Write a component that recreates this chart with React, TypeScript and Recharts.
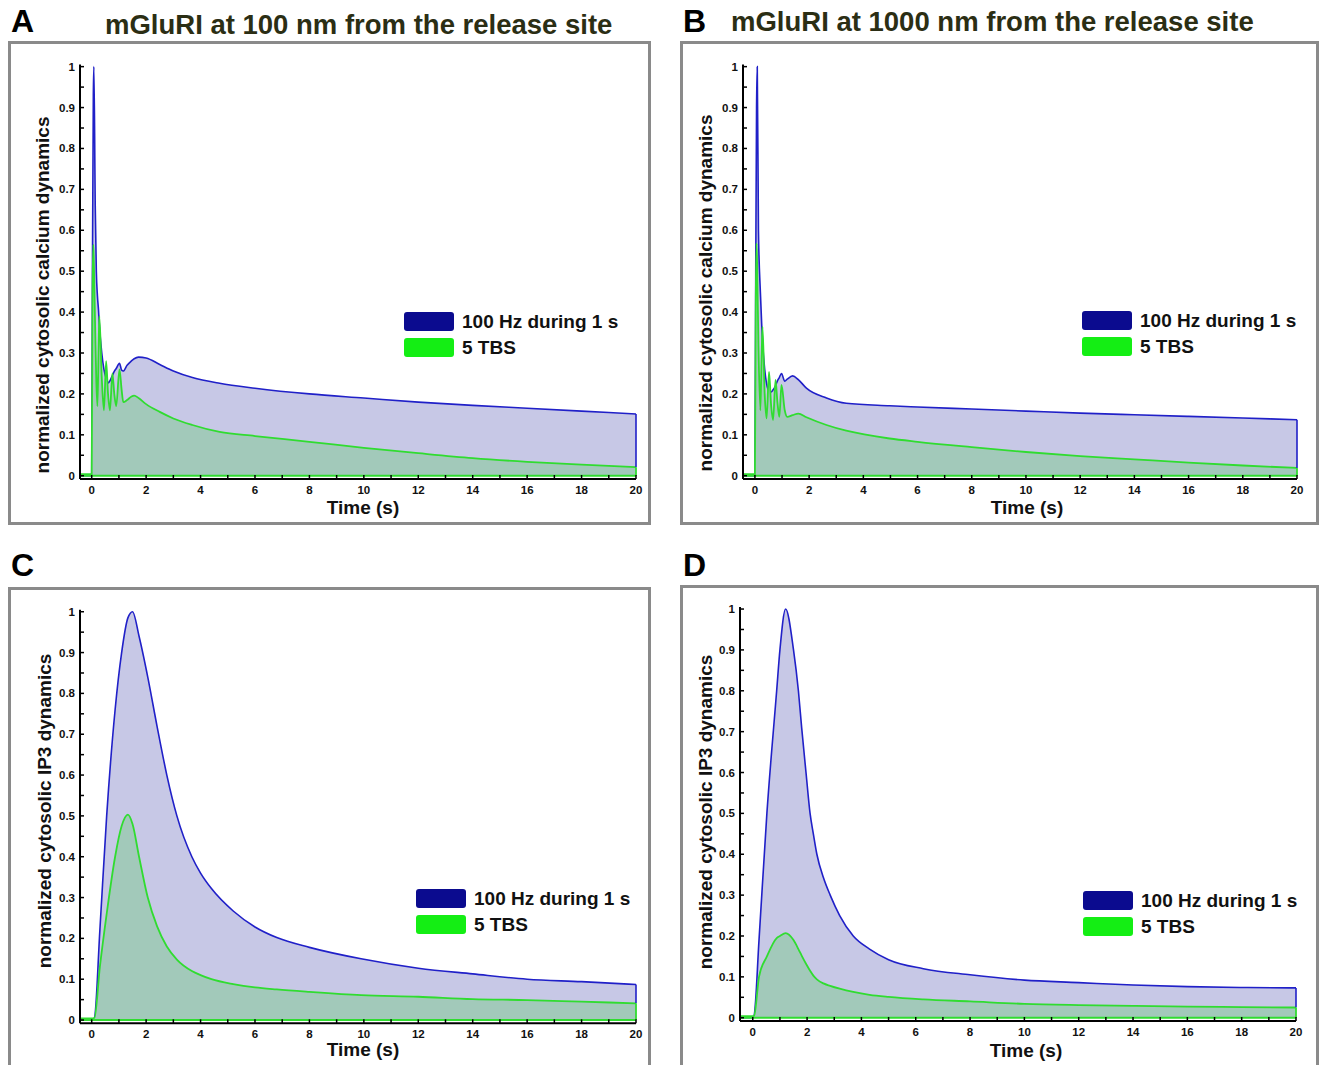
import React from 'react';
import { ComposedChart, Area, XAxis, YAxis, ReferenceLine, Legend } from 'recharts';

const FONT = '"Liberation Sans", Arial, Helvetica, sans-serif';

// A: calcium, mGluRI at 100 nm
const timeA = [-0.43, 0, 0.03, 0.06, 0.08, 0.13, 0.17, 0.21, 0.25, 0.28, 0.37, 0.45, 0.53, 0.6, 0.67, 0.76, 0.83, 0.9, 1.02, 1.1, 1.16, 1.3, 1.45, 1.56, 1.72, 2.0, 2.5, 3.0, 3.7, 4.7, 6, 8, 10, 12, 14, 16, 18, 20];
const hfsA = [0, 0, 0.55, 0.93, 1.0, 0.66, 0.5, 0.44, 0.405, 0.37, 0.3, 0.26, 0.238, 0.227, 0.232, 0.245, 0.255, 0.262, 0.275, 0.258, 0.256, 0.27, 0.28, 0.286, 0.29, 0.288, 0.272, 0.256, 0.24, 0.226, 0.214, 0.2, 0.19, 0.18, 0.172, 0.165, 0.158, 0.151];
const tbsA = [0.004, 0.004, 0.45, 0.565, 0.52, 0.35, 0.23, 0.17, 0.3, 0.39, 0.24, 0.16, 0.28, 0.2, 0.16, 0.25, 0.2, 0.17, 0.26, 0.21, 0.18, 0.185, 0.193, 0.196, 0.19, 0.175, 0.156, 0.14, 0.124, 0.107, 0.097, 0.083, 0.068, 0.055, 0.043, 0.034, 0.027, 0.021];

// B: calcium, mGluRI at 1000 nm
const timeB = [-0.44, 0, 0.03, 0.06, 0.086, 0.13, 0.2, 0.25, 0.28, 0.36, 0.43, 0.52, 0.6, 0.67, 0.76, 0.83, 0.9, 0.98, 1.1, 1.19, 1.39, 1.6, 1.9, 2.64, 3.37, 4.97, 6, 8, 10, 12, 14, 16, 18, 20];
const hfsB = [0, 0, 0.5, 0.9, 1.0, 0.6, 0.45, 0.37, 0.33, 0.26, 0.225, 0.207, 0.205, 0.21, 0.22, 0.232, 0.24, 0.25, 0.231, 0.236, 0.244, 0.235, 0.214, 0.19, 0.177, 0.171, 0.168, 0.163, 0.158, 0.153, 0.149, 0.145, 0.141, 0.137];
const tbsB = [0.004, 0.004, 0.42, 0.568, 0.5, 0.32, 0.16, 0.3, 0.364, 0.2, 0.14, 0.254, 0.17, 0.136, 0.234, 0.18, 0.144, 0.222, 0.16, 0.144, 0.148, 0.152, 0.143, 0.124, 0.11, 0.091, 0.083, 0.07, 0.058, 0.048, 0.04, 0.032, 0.025, 0.019];

// C: IP3, 100 nm
const timeC = [-0.43, 0, 0.1, 0.3, 0.55, 0.86, 1.1, 1.33, 1.5, 1.74, 2.06, 2.4, 2.76, 3.13, 3.68, 4.0, 4.4, 5.2, 6, 6.8, 8, 9.9, 12, 14, 16, 18, 20];
const hfsC = [0, 0, 0.005, 0.22, 0.5, 0.76, 0.9, 0.985, 1.0, 0.94, 0.84, 0.72, 0.6, 0.5, 0.4, 0.36, 0.322, 0.267, 0.228, 0.202, 0.178, 0.15, 0.127, 0.113, 0.1, 0.094, 0.087];
const tbsC = [0.004, 0.004, 0.005, 0.13, 0.26, 0.4, 0.475, 0.503, 0.48, 0.4, 0.3, 0.23, 0.18, 0.148, 0.12, 0.11, 0.1, 0.088, 0.08, 0.075, 0.069, 0.061, 0.057, 0.051, 0.049, 0.045, 0.041];

// D: IP3, 1000 nm
const timeD = [-0.47, 0, 0.05, 0.23, 0.52, 0.88, 1.0, 1.21, 1.5, 1.68, 1.8, 1.96, 2.11, 2.23, 2.36, 2.6, 2.85, 3.2, 3.7, 4.3, 5, 6.28, 8, 10, 12, 14, 16, 18, 20];
const hfsD = [0, 0, 0.005, 0.19, 0.5, 0.8, 0.9, 1.0, 0.9, 0.8, 0.71, 0.6, 0.5, 0.45, 0.4, 0.343, 0.3, 0.25, 0.2, 0.168, 0.142, 0.12, 0.105, 0.092, 0.086, 0.08, 0.076, 0.074, 0.073];
const tbsD = [0.004, 0.004, 0.005, 0.1, 0.15, 0.195, 0.2, 0.207, 0.19, 0.168, 0.152, 0.132, 0.115, 0.103, 0.094, 0.084, 0.078, 0.071, 0.063, 0.056, 0.051, 0.045, 0.04, 0.034, 0.031, 0.029, 0.027, 0.026, 0.025];

const xTicks = [0, 1, 2, 3, 4, 5, 6, 7, 8, 9, 10, 11, 12, 13, 14, 15, 16, 17, 18, 19, 20];
const yTicks = [0, 0.05, 0.1, 0.15, 0.2, 0.25, 0.3, 0.35, 0.4, 0.45, 0.5, 0.55, 0.6, 0.65, 0.7, 0.75, 0.8, 0.85, 0.9, 0.95, 1];
const legendNames = ['100 Hz during 1 s', '5 TBS'];
const legendSwatches = ['#0b0b8f', '#14ee14'];

const BLUE = '#2020c8';
const GREEN = '#30dc30';
const BLUE_FILL = '#c7c8e6';
const GREEN_FILL = '#a2c9ba';

function rows(time: number[], hfs: number[], tbs: number[]) {
  return time.map((t, i) => ({ t, hfs: hfs[i], tbs: tbs[i] }));
}

function XTick(props: any) {
  const { x, y, payload } = props;
  const v = payload.value;
  const major = v % 2 === 0;
  return (
    <g>
      <line x1={x} x2={x} y1={y} y2={y - 4} stroke="#000" strokeWidth={1.5} />
      {major && (
        <text x={x} y={y + 15} textAnchor="middle" fontFamily={FONT} fontWeight="bold" fontSize={11.5} fill="#111">
          {v}
        </text>
      )}
    </g>
  );
}

function YTick(props: any) {
  const { x, y, payload } = props;
  const v = payload.value;
  const major = Math.round(v * 100) % 10 === 0;
  const txt = v === 0 ? '0' : v === 1 ? '1' : v.toFixed(1);
  return (
    <g>
      <line x1={x} x2={x + 4} y1={y} y2={y} stroke="#000" strokeWidth={1.5} />
      {major && (
        <text x={x - 5} y={y + 4} textAnchor="end" fontFamily={FONT} fontWeight="bold" fontSize={11.5} fill="#111">
          {txt}
        </text>
      )}
    </g>
  );
}

function LegendBox() {
  return (
    <div style={{ fontFamily: FONT, fontWeight: 'bold', fontSize: 19, color: '#111' }}>
      {legendNames.map((n, i) => (
        <div key={n} style={{ display: 'flex', alignItems: 'center', height: 26, whiteSpace: 'nowrap' }}>
          <span style={{ display: 'inline-block', width: 50, height: 19, background: legendSwatches[i], borderRadius: 3, marginRight: 8 }} />
          <span>{n}</span>
        </div>
      ))}
    </div>
  );
}

type Box = { x: number; y: number; w: number; h: number };
type PanelProps = {
  frame: Box;
  plot: { left: number; right: number; top: number; bottom: number };
  xMin: number;
  time: number[];
  hfs: number[];
  tbs: number[];
  legend: { x: number; y: number };
  xLabel: { x: number; y: number };
  yLabel: { x: number; y: number; text: string };
};

function Panel(p: PanelProps) {
  const svgH = Math.min(p.frame.h, 1065 - p.frame.y);
  const data = rows(p.time, p.hfs, p.tbs);
  const fx = p.frame.x;
  const fy = p.frame.y;
  const tEnd = p.time[p.time.length - 1];
  const hfsEnd = p.hfs[p.hfs.length - 1];
  const tbsEnd = p.tbs[p.tbs.length - 1];
  return (
    <>
      <div
        style={{
          position: 'absolute', left: fx, top: fy, width: p.frame.w, height: p.frame.h,
          border: '3px solid #8a8a8a', boxSizing: 'border-box',
        }}
      />
      <div style={{ position: 'absolute', left: fx, top: fy }}>
        <ComposedChart
          width={p.frame.w}
          height={svgH}
          data={data}
          margin={{ top: p.plot.top - fy, right: fx + p.frame.w - p.plot.right, bottom: 0, left: 0 }}
        >
          <XAxis
            type="number"
            dataKey="t"
            domain={[p.xMin, 20]}
            ticks={xTicks}
            interval={0}
            allowDataOverflow
            height={fy + svgH - p.plot.bottom}
            tick={<XTick />}
            tickSize={0}
            tickMargin={0}
            tickLine={false}
            axisLine={{ stroke: '#000', strokeWidth: 2 }}
            label={() => (
              <text x={p.xLabel.x - fx} y={p.xLabel.y - fy} textAnchor="middle" dominantBaseline="central"
                fontFamily={FONT} fontWeight="bold" fontSize={19} fill="#111">
                Time (s)
              </text>
            )}
          />
          <YAxis
            type="number"
            domain={[-0.008, 1.005]}
            ticks={yTicks}
            interval={0}
            allowDataOverflow
            width={p.plot.left - fx}
            tick={<YTick />}
            tickSize={0}
            tickMargin={0}
            tickLine={false}
            axisLine={{ stroke: '#000', strokeWidth: 2 }}
            label={() => (
              <text x={0} y={0} transform={`translate(${p.yLabel.x - fx},${p.yLabel.y - fy}) rotate(-90)`}
                textAnchor="middle" dominantBaseline="central"
                fontFamily={FONT} fontWeight="bold" fontSize={19} fill="#111">
                {p.yLabel.text}
              </text>
            )}
          />
          <Area type="monotone" dataKey="hfs" name={legendNames[0]} stroke={BLUE} strokeWidth={1.6}
            fill={BLUE_FILL} fillOpacity={1} dot={false} activeDot={false} isAnimationActive={false} />
          <Area type="monotone" dataKey="tbs" name={legendNames[1]} stroke={GREEN} strokeWidth={1.8}
            fill={GREEN_FILL} fillOpacity={1} dot={false} activeDot={false} isAnimationActive={false} />
          <ReferenceLine segment={[{ x: tEnd, y: hfsEnd }, { x: tEnd, y: tbsEnd }]} stroke={BLUE} strokeWidth={1.6} />
          <ReferenceLine segment={[{ x: tEnd, y: tbsEnd }, { x: tEnd, y: 0 }]} stroke={GREEN} strokeWidth={1.8} />
          <ReferenceLine y={0} stroke={GREEN} strokeWidth={2} />
          <Legend
            layout="vertical"
            align="center"
            verticalAlign="middle"
            content={<LegendBox />}
            wrapperStyle={{ left: p.legend.x - fx, top: p.legend.y - fy, width: 'auto', height: 'auto' }}
          />
        </ComposedChart>
      </div>
    </>
  );
}

const titleStyle: React.CSSProperties = {
  position: 'absolute', fontFamily: FONT, fontWeight: 'bold', fontSize: 27.5, lineHeight: '32px',
  color: '#2b2e14', whiteSpace: 'nowrap',
};
const letterStyle: React.CSSProperties = {
  position: 'absolute', fontFamily: FONT, fontWeight: 'bold', fontSize: 32, lineHeight: '32px', color: '#000',
};

export default function App() {
  return (
    <div style={{ position: 'absolute', left: 0, top: 0, width: 1319, height: 1065, overflow: 'hidden', background: '#fff' }}>
      <div style={{ ...letterStyle, left: 11, top: 5 }}>A</div>
      <div style={{ ...titleStyle, left: 105, top: 9 }}>mGluRI at 100 nm from the release site</div>
      <div style={{ ...letterStyle, left: 683, top: 5 }}>B</div>
      <div style={{ ...titleStyle, left: 731, top: 6 }}>mGluRI at 1000 nm from the release site</div>
      <div style={{ ...letterStyle, left: 11, top: 549 }}>C</div>
      <div style={{ ...letterStyle, left: 683, top: 549 }}>D</div>

      <Panel
        frame={{ x: 8, y: 41, w: 643, h: 484 }}
        plot={{ left: 80, right: 636, top: 64.6, bottom: 479 }}
        xMin={-0.43}
        time={timeA} hfs={hfsA} tbs={tbsA}
        legend={{ x: 404, y: 308.5 }}
        xLabel={{ x: 363, y: 507 }}
        yLabel={{ x: 42, y: 295, text: 'normalized cytosolic calcium dynamics' }}
      />
      <Panel
        frame={{ x: 680, y: 41, w: 639, h: 484 }}
        plot={{ left: 743, right: 1297, top: 64.6, bottom: 479 }}
        xMin={-0.44}
        time={timeB} hfs={hfsB} tbs={tbsB}
        legend={{ x: 1082, y: 307.5 }}
        xLabel={{ x: 1027, y: 507 }}
        yLabel={{ x: 705, y: 293, text: 'normalized cytosolic calcium dynamics' }}
      />
      <Panel
        frame={{ x: 8, y: 587, w: 643, h: 500 }}
        plot={{ left: 80, right: 636, top: 609.7, bottom: 1023.3 }}
        xMin={-0.43}
        time={timeC} hfs={hfsC} tbs={tbsC}
        legend={{ x: 416, y: 885.5 }}
        xLabel={{ x: 363, y: 1049 }}
        yLabel={{ x: 44, y: 811, text: 'normalized cytosolic IP3 dynamics' }}
      />
      <Panel
        frame={{ x: 680, y: 585, w: 639, h: 500 }}
        plot={{ left: 740, right: 1296, top: 607, bottom: 1021 }}
        xMin={-0.47}
        time={timeD} hfs={hfsD} tbs={tbsD}
        legend={{ x: 1083, y: 887.5 }}
        xLabel={{ x: 1026, y: 1050 }}
        yLabel={{ x: 705, y: 812, text: 'normalized cytosolic IP3 dynamics' }}
      />
    </div>
  );
}
